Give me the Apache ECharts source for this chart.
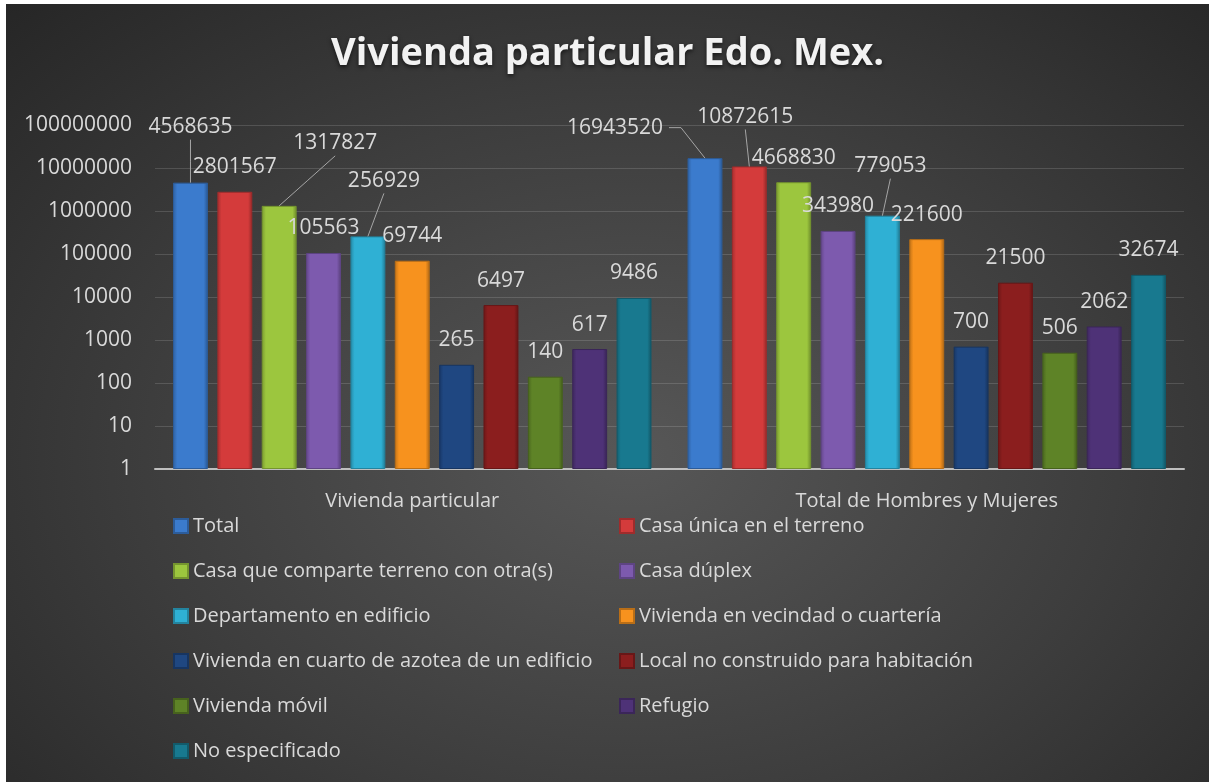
<!DOCTYPE html>
<html>
<head>
<meta charset="utf-8">
<title>Vivienda particular Edo. Mex.</title>
<script src="https://cdn.jsdelivr.net/npm/echarts@6/dist/echarts.min.js"></script>
<style>
  html, body { margin: 0; padding: 0; background: #ffffff; }
  #chart {
    position: absolute; left: 6px; top: 4px; width: 1203px; height: 778px;
    background: radial-gradient(ellipse farthest-corner at 52% 58%, #575757 0%, #3d3d3d 55%, #262626 100%);
  }
</style>
</head>
<body>
<div id="chart"></div>
<script>
// categorias del eje x
var categorias = ['Vivienda particular', 'Total de Hombres y Mujeres'];

// tipos de vivienda (series)
var tipos = [
  'Total',
  'Casa única en el terreno',
  'Casa que comparte terreno con otra(s)',
  'Casa dúplex',
  'Departamento en edificio',
  'Vivienda en vecindad o cuartería',
  'Vivienda en cuarto de azotea de un edificio',
  'Local no construido para habitación',
  'Vivienda móvil',
  'Refugio',
  'No especificado'
];

// valores: [Vivienda particular, Total de Hombres y Mujeres]
var total        = [4568635, 16943520];
var casaUnica    = [2801567, 10872615];
var casaComparte = [1317827, 4668830];
var casaDuplex   = [105563, 343980];
var departamento = [256929, 779053];
var vecindad     = [69744, 221600];
var azotea       = [265, 700];
var localNoConst = [6497, 21500];
var movil        = [140, 506];
var refugio      = [617, 2062];
var noEspecif    = [9486, 32674];

var valores = [total, casaUnica, casaComparte, casaDuplex, departamento, vecindad,
               azotea, localNoConst, movil, refugio, noEspecif];

var ticksY = [1, 10, 100, 1000, 10000, 100000, 1000000, 10000000, 100000000];

var colores = ['#3b7bcd', '#d43b3b', '#9cc63e', '#7d5aae', '#2fb0d4', '#f7921e',
               '#1f4781', '#8b1e1e', '#5e8327', '#4e3277', '#18798f'];

// etiquetas movidas a mano (serie-dato : [dx, dy]) con linea guia
var etiquetasMovidas = {
  '0-0': [0, -31], '2-0': [56, -38], '4-0': [16, -31],
  '0-1': [-90, -6], '1-1': [-4, -25], '4-1': [8, -25]
};
var guias = {};

function sombra(hex, f) {
  var n = parseInt(hex.slice(1), 16);
  var r = (n >> 16) & 255, g = (n >> 8) & 255, b = n & 255;
  r = Math.round(r * f); g = Math.round(g * f); b = Math.round(b * f);
  return 'rgb(' + r + ',' + g + ',' + b + ')';
}

var myChart = echarts.init(document.getElementById('chart'));

var series = tipos.map(function (nombre, i) {
  var c = colores[i];
  return {
    name: nombre,
    type: 'bar',
    barGap: '27%',
    barCategoryGap: '7%',
    data: valores[i],
    itemStyle: {
      color: new echarts.graphic.LinearGradient(0, 0, 1, 0, [
        { offset: 0, color: sombra(c, 0.78) },
        { offset: 0.12, color: c },
        { offset: 0.88, color: c },
        { offset: 1, color: sombra(c, 0.7) }
      ]),
      borderColor: sombra(c, 0.75),
      borderWidth: 1
    },
    label: {
      show: true,
      position: 'top',
      distance: 14,
      color: '#d9d9d9',
      fontFamily: 'Open Sans',
      fontSize: 21
    },
    labelLayout: function (p) {
      var key = p.seriesIndex + '-' + p.dataIndex;
      var o = etiquetasMovidas[key];
      if (!o) return {};
      var lr = p.labelRect, r = p.rect;
      var nx = lr.x + o[0], ny = lr.y + o[1];
      var fin = [r.x + r.width / 2, r.y];
      var ini, medio;
      if (o[0] < -30) {
        // etiqueta a la izquierda: guion corto y luego diagonal
        ini = [nx + lr.width + 6, ny + lr.height / 2];
        medio = [ini[0] + 12, ini[1]];
      } else {
        ini = [nx + lr.width / 2, ny + lr.height + 2];
        medio = [(ini[0] + fin[0]) / 2, (ini[1] + fin[1]) / 2];
      }
      guias[key] = [ini, medio, fin];
      return { dx: o[0], dy: o[1] };
    }
  };
});

var izquierda = tipos.filter(function (t, i) { return i % 2 === 0; });
var derecha = tipos.filter(function (t, i) { return i % 2 === 1; });

var leyendaBase = {
  orient: 'vertical',
  top: 507,
  itemGap: 25,
  itemWidth: 14,
  itemHeight: 14,
  icon: 'rect',
  selectedMode: false,
  textStyle: { color: '#d9d9d9', fontFamily: 'Open Sans', fontSize: 20, lineHeight: 20 }
};

option = {
  backgroundColor: 'transparent',
  animation: false,
  title: {
    text: 'Vivienda particular Edo. Mex.',
    left: 'center',
    top: 24,
    textStyle: {
      color: '#f2f2f2',
      fontFamily: 'Open Sans',
      fontWeight: 'bold',
      fontSize: 38,
      lineHeight: 42,
      textShadowColor: 'rgba(0,0,0,0.6)',
      textShadowBlur: 4,
      textShadowOffsetY: 2
    }
  },
  legend: [
    Object.assign({}, leyendaBase, { left: 162, data: izquierda }),
    Object.assign({}, leyendaBase, { left: 608, data: derecha })
  ],
  grid: { left: 149, right: 25, top: 121, bottom: 313, containLabel: false },
  xAxis: {
    type: 'category',
    data: categorias,
    axisTick: { show: false },
    axisLine: { lineStyle: { color: '#bfbfbf', width: 2 } },
    axisLabel: { color: '#d9d9d9', fontFamily: 'Open Sans', fontSize: 20, lineHeight: 20, margin: 22 }
  },
  yAxis: {
    type: 'log',
    logBase: 10,
    min: ticksY[0],
    max: ticksY[ticksY.length - 1],
    splitNumber: 8,
    axisLine: { show: false },
    axisTick: { show: false },
    axisLabel: {
      color: '#d9d9d9',
      fontFamily: 'Open Sans',
      fontSize: 21,
      margin: 23,
      formatter: function (v) { return String(Math.round(v)); }
    },
    splitLine: { lineStyle: { color: 'rgba(255,255,255,0.14)', width: 1 } }
  },
  series: series
};

myChart.setOption(option);

// lineas guia de las etiquetas movidas (puntos sacados del layout de echarts)
var lineas = Object.keys(guias).map(function (k) {
  return {
    type: 'polyline',
    silent: true,
    z: 100,
    shape: { points: guias[k] },
    style: { stroke: '#a6a6a6', lineWidth: 1, fill: null }
  };
});
myChart.setOption({ graphic: lineas });
</script>
</body>
</html>
